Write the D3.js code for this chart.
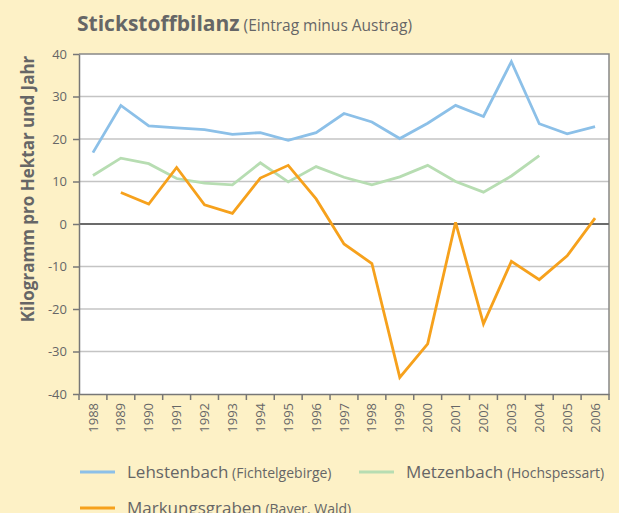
<!DOCTYPE html>
<meta charset="utf-8">
<style>
body { margin: 0; background: #fdf1c6; }
text { font-family: "Open Sans", sans-serif; fill: #666; }
.grid line { stroke: #c4c4c4; stroke-width: 1.5px; }
.axis path, .axis line { stroke: #777; stroke-width: 1.5px; }
.axis text { fill: #666; font-size: 13px; }
.series { fill: none; stroke-width: 2.8px; stroke-linejoin: miter; }
</style>
<body>
<script src="https://d3js.org/d3.v7.min.js"></script>
<script>

var years = [1988, 1989, 1990, 1991, 1992, 1993, 1994, 1995, 1996, 1997,
             1998, 1999, 2000, 2001, 2002, 2003, 2004, 2005, 2006];

var lehstenbach = [16.8, 27.9, 23.1, 22.6, 22.2, 21.1, 21.5, 19.7, 21.5, 26.0,
                   24.0, 20.1, 23.7, 27.9, 25.3, 38.2, 23.6, 21.2, 22.9];

var metzenbach = [11.4, 15.5, 14.2, 10.7, 9.6, 9.2, 14.4, 9.9, 13.5, 11.0,
                  9.2, 11.1, 13.8, 10.0, 7.5, 11.3, 16.1];

var markungsgraben = [null, 7.4, 4.7, 13.3, 4.5, 2.5, 10.8, 13.8, 5.9, -4.7,
                      -9.3, -36.1, -28.2, 0.4, -23.5, -8.8, -13.1, -7.5, 1.4];

var yTicks = [-40, -30, -20, -10, 0, 10, 20, 30, 40];

var series = [
  {name: "Lehstenbach", region: "(Fichtelgebirge)", color: "#8cc0e8", values: lehstenbach},
  {name: "Metzenbach", region: "(Hochspessart)", color: "#b7ddb2", values: metzenbach},
  {name: "Markungsgraben", region: "(Bayer. Wald)", color: "#f6a11c", values: markungsgraben}
];

var width = 619,
    height = 513,
    plotLeft = 79, plotRight = 609, plotTop = 54, plotBottom = 394;

var svg = d3.select("body").append("svg")
    .attr("width", width)
    .attr("height", height);

var x = d3.scaleBand()
    .domain(years)
    .range([plotLeft, plotRight]);

var y = d3.scaleLinear()
    .domain([-40, 40])
    .range([plotBottom, plotTop]);

// plot background
svg.append("rect")
    .attr("x", plotLeft).attr("y", plotTop)
    .attr("width", plotRight - plotLeft).attr("height", plotBottom - plotTop)
    .attr("fill", "#fff");

svg.append("g")
    .attr("class", "grid")
    .selectAll("line")
    .data(yTicks.filter(function(d) { return d !== 0 && d !== -40 && d !== 40; }))
  .enter().append("line")
    .attr("x1", plotLeft).attr("x2", plotRight)
    .attr("y1", y).attr("y2", y);

// frame top/right
svg.append("path")
    .attr("d", "M" + plotLeft + "," + plotTop + "H" + plotRight + "V" + plotBottom)
    .attr("fill", "none")
    .attr("stroke", "#888")
    .attr("stroke-width", 1.5);

// zero line
svg.append("line")
    .attr("x1", plotLeft).attr("x2", plotRight)
    .attr("y1", y(0)).attr("y2", y(0))
    .attr("stroke", "#6b6b6b")
    .attr("stroke-width", 2);

svg.append("g")
    .attr("class", "axis")
    .attr("transform", "translate(" + plotLeft + ",0)")
    .call(d3.axisLeft(y).tickValues(yTicks).tickFormat(function(d) { return String(d); })
      .tickSize(6).tickSizeOuter(0).tickPadding(4))
    .call(function(g) { g.selectAll("text").attr("dx", "-2"); });

var xAxis = svg.append("g")
    .attr("class", "axis")
    .attr("transform", "translate(0," + plotBottom + ")")
    .call(d3.axisBottom(x).tickSize(0).tickSizeOuter(0));

xAxis.selectAll("text")
    .attr("transform", "rotate(-90)")
    .attr("text-anchor", "end")
    .attr("x", -9)
    .attr("y", 0)
    .attr("dy", "0.35em")
    .style("font-size", "13px");

// ticks between categories
xAxis.selectAll(".sep")
    .data(years.concat([null]))
  .enter().append("line")
    .attr("class", "sep")
    .attr("x1", function(d, i) { return plotLeft + i * x.step(); })
    .attr("x2", function(d, i) { return plotLeft + i * x.step(); })
    .attr("y1", 0).attr("y2", 6);

var line = d3.line()
    .defined(function(d) { return d != null; })
    .x(function(d, i) { return x(years[i]) + x.bandwidth() / 2; })
    .y(function(d) { return y(d); });

svg.selectAll(".series")
    .data(series)
  .enter().append("path")
    .attr("class", "series")
    .attr("stroke", function(d) { return d.color; })
    .attr("d", function(d) { return line(d.values); });

// title
var title = svg.append("text")
    .attr("x", 77).attr("y", 31);
title.append("tspan")
    .style("font-size", "21px").style("font-weight", "bold")
    .text("Stickstoffbilanz");
title.append("tspan")
    .style("font-size", "15.5px")
    .text(" (Eintrag minus Austrag)");

svg.append("text")
    .attr("transform", "translate(28,189) rotate(-90)")
    .attr("text-anchor", "middle")
    .attr("dy", "0.35em")
    .style("font-size", "17px").style("font-weight", "bold")
    .text("Kilogramm pro Hektar und Jahr");

// legend
var legendPos = [[80, 472], [359, 472], [80, 508]];

var legend = svg.selectAll(".legend")
    .data(series)
  .enter().append("g")
    .attr("class", "legend")
    .attr("transform", function(d, i) { return "translate(" + legendPos[i] + ")"; });

legend.append("line")
    .attr("x1", 0).attr("x2", 35)
    .attr("stroke", function(d) { return d.color; })
    .attr("stroke-width", 2.8);

var lt = legend.append("text")
    .attr("x", 47).attr("dy", "0.35em");
lt.append("tspan")
    .style("font-size", "17px")
    .text(function(d) { return d.name; });
lt.append("tspan")
    .style("font-size", "14px")
    .text(function(d) { return " " + d.region; });

</script>
